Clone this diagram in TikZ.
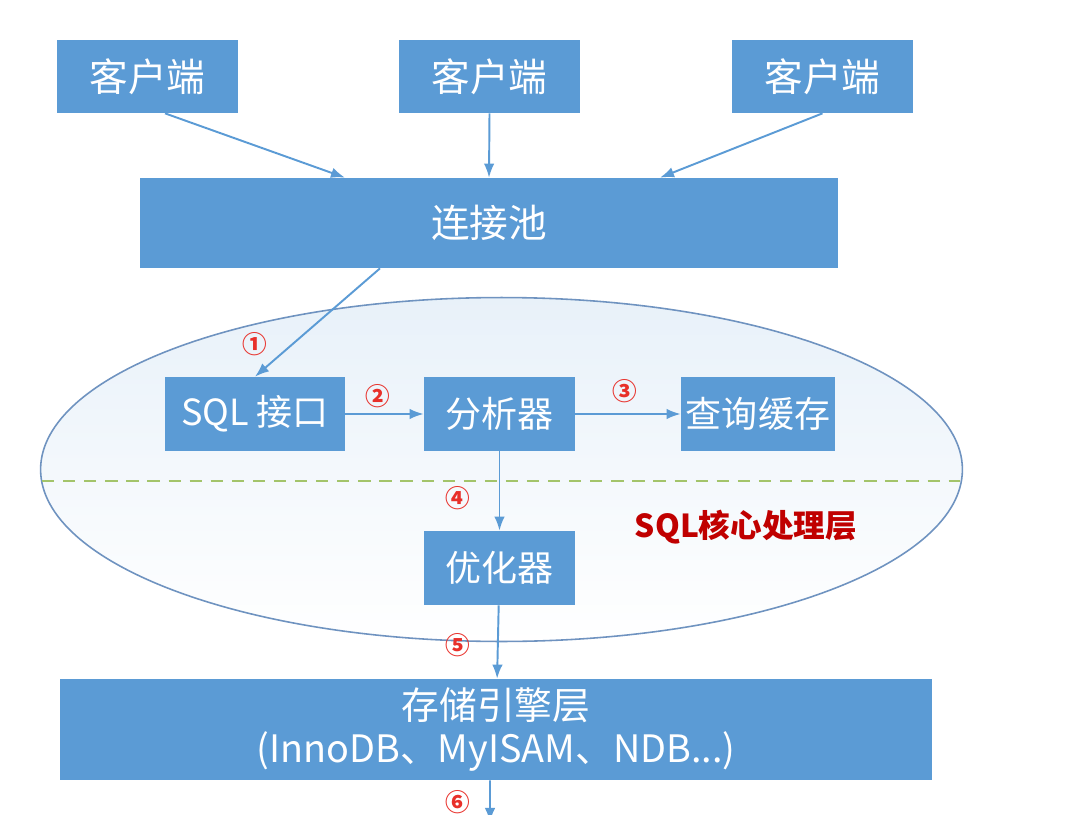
\documentclass[tikz,border=0pt]{standalone}
\usepackage{fontspec}
\newfontfamily\cjk{Noto Sans CJK SC}
\usepackage{tikz}
\usetikzlibrary{arrows.meta,positioning,calc,shapes.geometric}

\definecolor{boxblue}{HTML}{5B9BD5}
\definecolor{lineblue}{HTML}{5B9BD5}
\definecolor{ringblue}{HTML}{6F93C0}
\definecolor{dashgreen}{HTML}{A3C46A}
\definecolor{labelred}{HTML}{C00000}
\definecolor{numred}{HTML}{E8302A}

\tikzset{
    block/.style={fill=boxblue,text=white,inner sep=0pt,align=center,
        font=\cjk\fontsize{22}{26}\selectfont},
    inner block/.style={block,minimum height=1.48cm,font=\cjk\fontsize{20.5}{24}\selectfont},
    flow/.style={-{Latex[length=8pt,width=6pt]},draw=lineblue,line width=1.1pt},
    stepnum/.style={text=numred,inner sep=0pt,font=\cjk\bfseries\fontsize{14}{16}\selectfont},
}

\begin{document}
\begin{tikzpicture}[x=0.02cm,y=-0.02cm]
        \useasboundingbox (0,0) rectangle (1086,815);

        %%%% Core layer ===================================
        \node[ellipse,draw=ringblue,line width=0.9pt,top color=boxblue!14,bottom color=white,
              minimum width=18.44cm,minimum height=6.88cm] (core) at (501.5,469.5) {};
        \draw[dashgreen,dash pattern=on 7pt off 5pt,line width=1pt] (42,481) -- (960,481);
        \node[text=labelred,font=\cjk\bfseries\fontsize{18}{22}\selectfont] (corelabel) at (746,527) {SQL核心处理层};

        %%%% Clients =======================================
        \node[block,minimum width=3.62cm,minimum height=1.46cm] (c1) at (147.5,76.5) {客户端};
        \node[block,minimum width=3.62cm,minimum height=1.46cm] (c2) at (489.5,76.5) {客户端};
        \node[block,minimum width=3.62cm,minimum height=1.46cm] (c3) at (822.5,76.5) {客户端};

        % Pool
        \node[block,minimum width=13.96cm,minimum height=1.8cm] (pool) at (489,223) {连接池};

        % Processing
        \node[inner block,minimum width=3.6cm] (sqlif) at (255,414) {SQL 接口};
        \node[inner block,minimum width=3.02cm] (parser) at (499.5,414) {分析器};
        \node[inner block,minimum width=3.08cm] (cache) at (758,414) {查询缓存};
        \node[inner block,minimum width=3.02cm] (optim) at (499.5,568) {优化器};

        % Storage
        \node[block,minimum width=17.44cm,minimum height=2.02cm,font=\cjk\fontsize{21.5}{24.5}\selectfont] (store) at (496,729.5) {存储引擎层\\(InnoDB、MyISAM、NDB...)};
        \coordinate (out) at (490,822);

        %%%% Arcs ==========================================
        \draw[flow] ([xshift=0.35cm]c1.south) -- ([xshift=-2.88cm]pool.north);
        \draw[flow] (c2.south) -- (pool.north);
        \draw[flow] (c3.south) -- ([xshift=3.42cm]pool.north);
        \draw[flow] ([xshift=-2.18cm]pool.south) -- (sqlif.north);
        \draw[flow] (sqlif) -- (parser);
        \draw[flow] (parser) -- (cache);
        \draw[flow] (parser) -- (optim);
        \draw[flow] (optim) -- (store);
        \draw[flow] ([xshift=-0.12cm]store.south) -- (out);

        % Step numbers
        \node[stepnum] (n1) at (255,344) {①};
        \node[stepnum] (n2) at (378,396) {②};
        \node[stepnum] (n3) at (625,391) {③};
        \node[stepnum] (n4) at (458,498) {④};
        \node[stepnum] (n5) at (458,645) {⑤};
        \node[stepnum] (n6) at (458,802) {⑥};
    \end{tikzpicture}
\end{document}
